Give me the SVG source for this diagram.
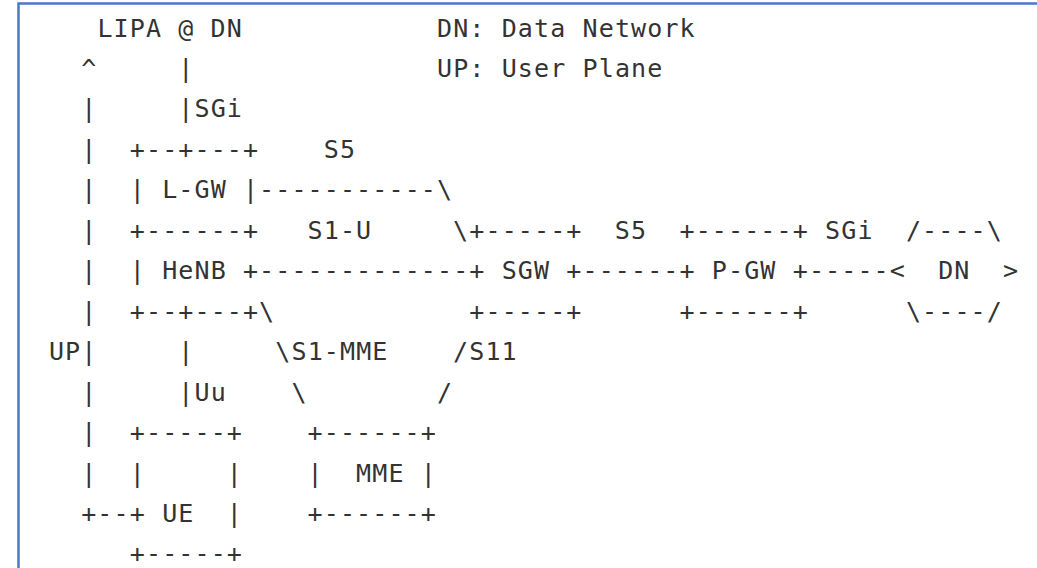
<svg xmlns="http://www.w3.org/2000/svg" width="1037" height="568" viewBox="0 0 1037 568" xml:space="preserve">
  <style>
    text { font-family: "DejaVu Sans Mono", "Liberation Mono", monospace; font-size: 25px; letter-spacing: 1.12px; fill: #333333; white-space: pre; }
    .frame { stroke: #4a77c6; stroke-width: 2.5; fill: none; }
  </style>
  <!-- page frame -->
  <rect width="1037" height="568" fill="#ffffff"/>
  <path class="frame" d="M18.5,568 V3.5 H1037"/>

  <!-- grid: x = 48.9 + 16.17*col, baseline y = 36.5 + 40.45*row -->

  <g id="legend">
    <text x="97.4" y="36.5">LIPA @ DN</text>
    <text x="437" y="36.5">DN: Data Network</text>
    <text x="437" y="77">UP: User Plane</text>
    <text x="48.9" y="360">UP</text>
  </g>

  <g id="connectors">
    <!-- UP path from UE up to LIPA -->
    <text x="81.2" y="77">^</text>
    <text x="81.2" y="117.4">|</text>
    <text x="81.2" y="157.9">|</text>
    <text x="81.2" y="198.3">|</text>
    <text x="81.2" y="238.8">|</text>
    <text x="81.2" y="279.2">|</text>
    <text x="81.2" y="319.7">|</text>
    <text x="81.2" y="360.1">|</text>
    <text x="81.2" y="400.6">|</text>
    <text x="81.2" y="441">|</text>
    <text x="81.2" y="481.5">|</text>
    <text x="81.2" y="521.9">+--</text>
    <!-- SGi from L-GW -->
    <text x="178.3" y="77">|</text>
    <text x="178.3" y="117.4">|SGi</text>
    <!-- S5 L-GW to P-GW -->
    <text x="323.8" y="157.9">S5</text>
    <text x="259.1" y="198.3">-----------\</text>
    <text x="453.1" y="238.8">\</text>
    <!-- S1-U HeNB to SGW -->
    <text x="307.6" y="238.8">S1-U</text>
    <text x="259.1" y="279.2">-------------</text>
    <!-- S5 SGW to P-GW -->
    <text x="614.8" y="238.8">S5</text>
    <text x="582.5" y="279.2">------</text>
    <!-- SGi P-GW to DN -->
    <text x="825.1" y="238.8">SGi</text>
    <text x="808.9" y="279.2">-----</text>
    <!-- S1-MME HeNB to MME -->
    <text x="259.1" y="319.7">\</text>
    <text x="275.3" y="360.1">\S1-MME</text>
    <text x="291.4" y="400.6">\</text>
    <!-- S11 SGW to MME -->
    <text x="453.1" y="360.1">/S11</text>
    <text x="437" y="400.6">/</text>
    <!-- Uu HeNB to UE -->
    <text x="178.3" y="360.1">|</text>
    <text x="178.3" y="400.6">|Uu</text>
  </g>

  <g id="node-lgw">
    <text x="129.8" y="157.9">+--+---+</text>
    <text x="129.8" y="198.3">| L-GW |</text>
  </g>

  <g id="node-henb">
    <text x="129.8" y="238.8">+------+</text>
    <text x="129.8" y="279.2">| HeNB +</text>
    <text x="129.8" y="319.7">+--+---+</text>
  </g>

  <g id="node-sgw">
    <text x="469.3" y="238.8">+-----+</text>
    <text x="469.3" y="279.2">+ SGW +</text>
    <text x="469.3" y="319.7">+-----+</text>
  </g>

  <g id="node-pgw">
    <text x="679.5" y="238.8">+------+</text>
    <text x="679.5" y="279.2">+ P-GW +</text>
    <text x="679.5" y="319.7">+------+</text>
  </g>

  <g id="node-dn">
    <text x="905.9" y="238.8">/----\</text>
    <text x="889.7" y="279.2">&lt;  DN  &gt;</text>
    <text x="905.9" y="319.7">\----/</text>
  </g>

  <g id="node-mme">
    <text x="307.6" y="441">+------+</text>
    <text x="307.6" y="481.5">|  MME |</text>
    <text x="307.6" y="521.9">+------+</text>
  </g>

  <g id="node-ue">
    <text x="129.8" y="441">+-----+</text>
    <text x="129.8" y="481.5">|     |</text>
    <text x="129.8" y="521.9">+ UE  |</text>
    <text x="129.8" y="562.4">+-----+</text>
  </g>
</svg>
